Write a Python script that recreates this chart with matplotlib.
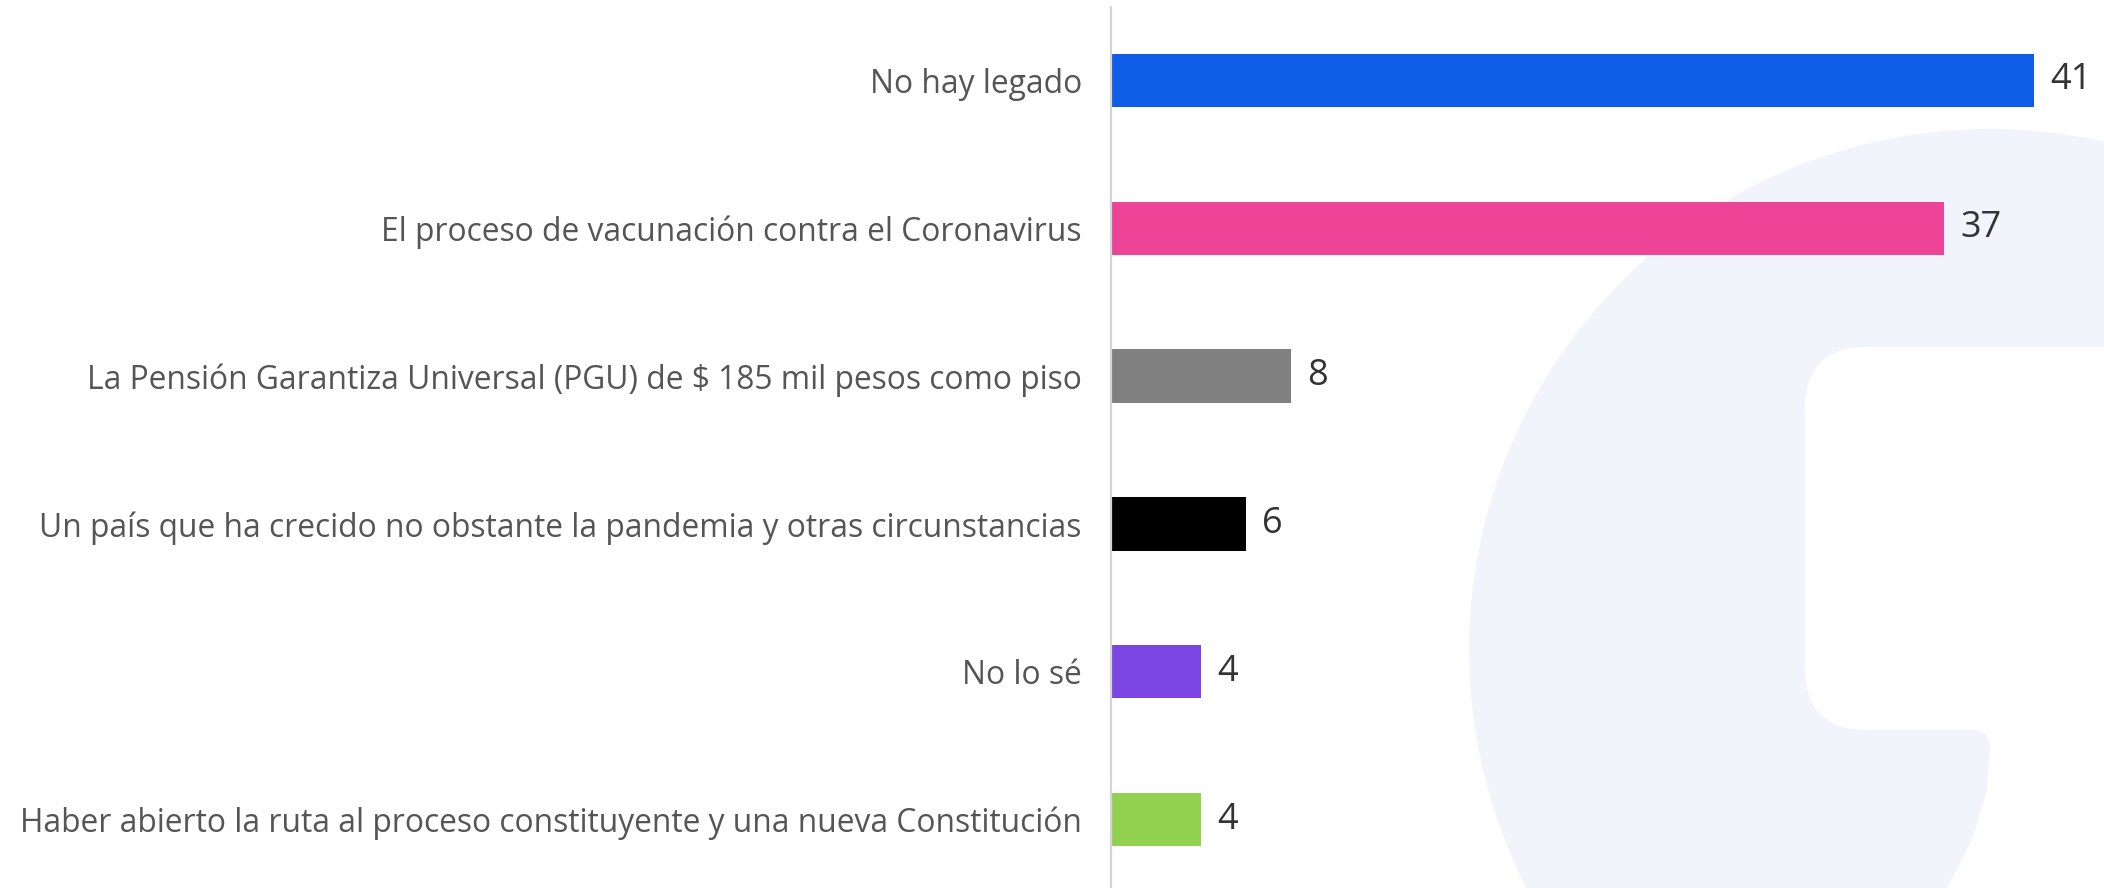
import matplotlib.pyplot as plt
from matplotlib.patches import Circle, FancyBboxPatch, Polygon

labels = [
    "No hay legado",
    "El proceso de vacunación contra el Coronavirus",
    "La Pensión Garantiza Universal (PGU) de $ 185 mil pesos como piso",
    "Un país que ha crecido no obstante la pandemia y otras circunstancias",
    "No lo sé",
    "Haber abierto la ruta al proceso constituyente y una nueva Constitución",
]
values = [41, 37, 8, 6, 4, 4]
colors = ["#0f5ce6", "#ee4497", "#808080", "#000000", "#7b45e3", "#92d050"]

plt.rcParams["font.family"] = ["Open Sans", "DejaVu Sans"]

W, H = 2104, 888
fig = plt.figure(figsize=(W / 100, H / 100), dpi=100)

# faint logo behind the chart, in pixel coordinates
bg = fig.add_axes([0, 0, 1, 1])
bg.set_xlim(0, W)
bg.set_ylim(H, 0)
bg.axis("off")
logo = "#f2f4fb"
bg.add_patch(Circle((1990, 650), 521, color=logo, lw=0))
bg.add_patch(FancyBboxPatch((1805, 347), 500, 383,
                            boxstyle="round,pad=0,rounding_size=62",
                            color="white", lw=0))
bg.add_patch(Polygon([(1975, 730), (1986, 734), (1990, 745), (1987, 790),
                      (1972, 840), (1947, 888), (1940, 900), (2200, 900),
                      (2200, 700)], closed=True, color="white", lw=0))

ax = fig.add_axes([1111 / W, 0, 1 - 1111 / W, 1])
ax.set_facecolor("none")
ypos = list(range(len(values)))
ax.barh(ypos, values, height=0.36, color=colors)

top = -80.5 / 147.8
bottom = (H - 80.5) / 147.8
ax.set_ylim(bottom, top)
ax.set_xlim(0, 44.1)

for y, v in zip(ypos, values):
    ax.annotate(str(v), (v, y), xytext=(11.5, 0), textcoords="offset points",
                ha="left", va="center", fontsize=26, color="#333333")

ax.set_yticks(ypos)
ax.set_yticklabels(labels, fontsize=22.9, color="#555555")
ax.tick_params(axis="y", length=0, pad=21)
ax.set_xticks([])

for side in ["top", "right", "bottom"]:
    ax.spines[side].set_visible(False)
ax.spines["left"].set_color("#d4d4d4")
ax.spines["left"].set_linewidth(1.6)
ax.spines["left"].set_bounds(bottom, top + 7 / 147.8)

fig.savefig("out.png", dpi=100)
